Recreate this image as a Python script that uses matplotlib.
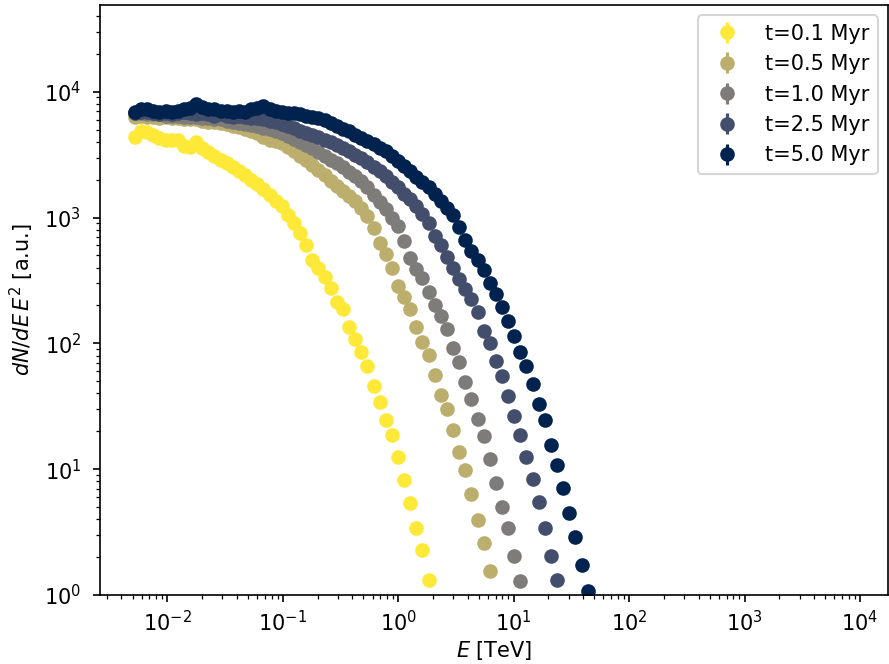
import numpy as np
import matplotlib
matplotlib.use("Agg")
import matplotlib.pyplot as plt
from matplotlib.ticker import LogLocator, NullFormatter

# energy bins [TeV] (shared by all snapshots)
energy = [5.24e-3, 5.92e-3, 6.68e-3, 7.55e-3, 8.53e-3, 9.64e-3, 1.089e-2, 1.230e-2,
          1.390e-2, 1.570e-2, 1.774e-2, 2.004e-2, 2.265e-2, 2.559e-2, 2.891e-2,
          3.266e-2, 3.690e-2, 4.169e-2, 4.710e-2, 5.321e-2, 6.012e-2, 6.792e-2,
          7.674e-2, 8.670e-2, 9.795e-2, 0.1107, 0.1250, 0.1413, 0.1596, 0.1803,
          0.2037, 0.2301, 0.2600, 0.2938, 0.3319, 0.3750, 0.4236, 0.4786, 0.5408,
          0.6109, 0.6902, 0.7798, 0.8810, 0.9954, 1.125, 1.271, 1.436, 1.622,
          1.832, 2.070, 2.339, 2.642, 2.985, 3.373, 3.811, 4.305, 4.864, 5.495,
          6.209, 7.015, 7.925, 8.954, 10.12, 11.43, 12.91, 14.59, 16.48, 18.62,
          21.04, 23.77, 26.85, 30.34, 34.28, 38.73, 43.75]

labels = ["t=0.1 Myr", "t=0.5 Myr", "t=1.0 Myr", "t=2.5 Myr", "t=5.0 Myr"]
xticks = [1e-2, 1e-1, 1e0, 1e1, 1e2, 1e3, 1e4]

# dN/dE E^2 [a.u.]
flux_01 = [4370, 4900, 4790, 4570, 4270, 4170, 4170, 4170, 3720, 3630, 3980, 3550,
           3310, 3090, 2880, 2690, 2510, 2340, 2190, 2000, 1860, 1700, 1510, 1350,
           1230, 1050, 902, 750, 603, 457, 398, 339, 275, 214, 186, 135, 108, 85.1,
           66.1, 45.7, 33.9, 24.5, 18.6, 12.6, 8.13, 5.37, 3.39, 2.29, 1.32]
flux_05 = [6310, 6460, 6310, 6310, 6170, 6310, 6170, 6170, 6030, 6030, 6030, 5890,
           5750, 5750, 5620, 5500, 5370, 5250, 5010, 4900, 4680, 4400, 4170, 4070,
           3890, 3630, 3390, 3090, 2880, 2630, 2400, 2190, 1950, 1780, 1620, 1480,
           1350, 1200, 1020, 832, 631, 513, 398, 288, 234, 186, 135, 102, 81.3,
           56.2, 38.9, 30.2, 20.4, 13.8, 9.77, 6.31, 3.98, 2.57, 1.55]
flux_10 = [6760, 6760, 6610, 6610, 6610, 6460, 6460, 6460, 6310, 6310, 6310, 6170,
           6170, 6030, 6030, 5890, 5750, 5620, 5560, 5430, 5310, 5130, 5010, 4900,
           4680, 4470, 4220, 3980, 3760, 3550, 3310, 3090, 2880, 2690, 2510, 2320,
           2140, 1950, 1740, 1510, 1320, 1170, 1000, 851, 646, 479, 389, 331, 257,
           200, 166, 129, 91.2, 70.8, 49.0, 36.3, 25.1, 18.2, 12.0, 7.76, 5.01,
           3.39, 2.04, 1.29]
flux_25 = [6760, 6920, 6920, 6760, 6610, 6760, 6610, 6760, 6920, 6760, 6610, 6760,
           6610, 6460, 6610, 6460, 6310, 6460, 6310, 6170, 6170, 6030, 5890, 5750,
           5560, 5370, 5130, 4900, 4730, 4570, 4370, 4170, 3980, 3760, 3550, 3350,
           3130, 2950, 2750, 2540, 2340, 2140, 1930, 1760, 1550, 1400, 1230, 1070,
           902, 708, 603, 490, 398, 324, 269, 224, 178, 126, 100, 72.4, 55.0, 38.0,
           26.3, 18.6, 12.6, 8.32, 5.50, 3.39, 2.04, 1.32]
flux_50 = [6920, 7240, 7240, 7080, 6920, 7080, 6920, 7080, 7240, 7410, 7940, 7590,
           7240, 7240, 7080, 7080, 6920, 7080, 6920, 7240, 7410, 7760, 7240, 7080,
           6920, 6760, 6760, 6610, 6460, 6310, 6170, 5960, 5620, 5310, 5070, 4840,
           4570, 4320, 4070, 3850, 3590, 3350, 3090, 2820, 2570, 2340, 2110, 1930,
           1740, 1550, 1360, 1200, 1050, 841, 661, 543, 462, 385, 302, 245, 195,
           151, 115, 85.1, 66.1, 47.9, 33.1, 24.5, 15.5, 10.7, 7.08, 4.47, 2.88,
           1.74, 1.07]

series = [flux_01, flux_05, flux_10, flux_25, flux_50]
colors = plt.cm.cividis(np.linspace(1, 0, len(series)))
rel_err = 0.03

fig = plt.figure(figsize=(889 / 150, 664 / 150), dpi=150)
ax = fig.add_axes([0.1125, 0.1039, 0.8864, 0.8886])

for flux, color, label in zip(series, colors, labels):
    flux = np.array(flux)
    e = np.array(energy[:len(flux)])
    ax.errorbar(e, flux, yerr=rel_err * flux, fmt='o', color=color, label=label)

ax.set_xscale('log')
ax.set_yscale('log')
ax.set_xticks(xticks)
ax.set_xlim(2.61e-3, 1.75e4)
ax.set_ylim(1, 4.89e4)
ax.xaxis.set_minor_locator(LogLocator(base=10, subs=np.arange(2, 10), numticks=100))
ax.xaxis.set_minor_formatter(NullFormatter())
ax.tick_params(axis='y', which='major', pad=5.5)
ax.set_xlabel(r'$E$ [TeV]', labelpad=2)
ax.set_ylabel(r'$dN/dE\,E^2$ [a.u.]', labelpad=4)
ax.legend(loc='upper right')

fig.savefig('out.png', dpi=150)
